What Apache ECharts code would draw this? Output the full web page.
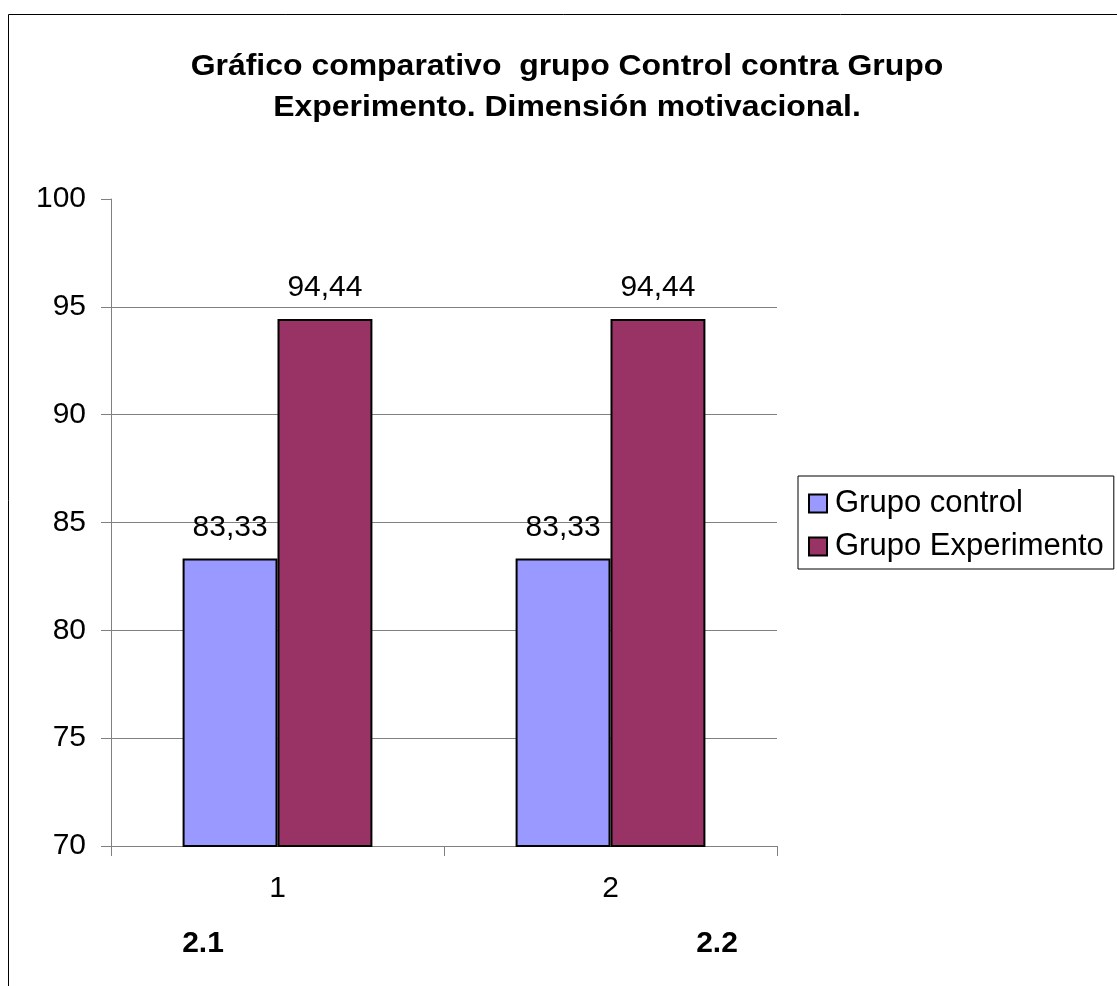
<!DOCTYPE html>
<html>
<head>
<meta charset="utf-8">
<script src="https://cdn.jsdelivr.net/npm/echarts@6/dist/echarts.min.js"></script>
<style>
  html, body { margin: 0; padding: 0; background: #fff; }
  #chart { width: 1117px; height: 986px; }
</style>
</head>
<body>
<div id="chart"></div>
<script>
// Chart data
const categories = ['1', '2'];
const sectionLabels = ['2.1', '2.2'];
const grupoControl = [83.33, 83.33];
const grupoExperimento = [94.44, 94.44];
const titleLines = ['Gráfico comparativo  grupo Control contra Grupo', 'Experimento. Dimensión motivacional.'];
const seriesNames = ['Grupo control', 'Grupo Experimento'];

const FONT = '"Liberation Sans", Arial, sans-serif';
const AXIS_GRAY = '#808080';

const chart = echarts.init(document.getElementById('chart'), null, { renderer: 'canvas' });

const valueLabel = {
  show: true,
  position: 'top',
  distance: 16,
  color: '#000',
  fontFamily: FONT,
  fontSize: 30,
  formatter: p => String(p.value).replace('.', ',')
};

chart.setOption({
  backgroundColor: '#fff',
  animation: false,
  textStyle: { fontFamily: FONT, color: '#000' },
  graphic: [
    {
      // outer frame of the chart area
      type: 'rect',
      z: -10,
      shape: { x: 8.5, y: 14.5, width: 2000, height: 2000 },
      style: { fill: 'none', stroke: '#000', lineWidth: 1 }
    },
    {
      // two-line bold title, slightly widened
      type: 'text',
      x: 567, y: 46,
      scaleX: 1.065,
      style: {
        text: titleLines.join('\n'),
        align: 'center',
        fontFamily: FONT,
        fontWeight: 'bold',
        fontSize: 30,
        lineHeight: 41,
        fill: '#000'
      }
    },
    {
      type: 'text',
      x: 203, y: 944,
      style: {
        text: sectionLabels[0], align: 'center', verticalAlign: 'middle',
        fontFamily: FONT, fontWeight: 'bold', fontSize: 30, fill: '#000'
      }
    },
    {
      type: 'text',
      x: 717, y: 944,
      style: {
        text: sectionLabels[1], align: 'center', verticalAlign: 'middle',
        fontFamily: FONT, fontWeight: 'bold', fontSize: 30, fill: '#000'
      }
    }
  ],
  legend: {
    orient: 'vertical',
    left: 798,
    top: 476,
    padding: [12, 10, 7, 10],
    itemGap: 12,
    itemWidth: 18,
    itemHeight: 18,
    borderColor: '#000',
    borderWidth: 1,
    icon: 'rect',
    textStyle: { fontFamily: FONT, fontSize: 31, color: '#000', padding: [0, 0, 0, 3] },
    data: seriesNames
  },
  grid: { left: 111, right: 340, top: 199, bottom: 140, containLabel: false },
  xAxis: {
    type: 'category',
    data: categories,
    boundaryGap: true,
    axisLine: { lineStyle: { color: AXIS_GRAY, width: 1 } },
    axisTick: { show: true, length: 10, interval: 0, alignWithLabel: false, lineStyle: { color: AXIS_GRAY } },
    axisLabel: { color: '#000', fontFamily: FONT, fontSize: 30, margin: 28 },
    splitLine: { show: false }
  },
  yAxis: {
    type: 'value',
    min: 70,
    max: 100,
    interval: 5,
    axisLine: { show: true, lineStyle: { color: AXIS_GRAY, width: 1 } },
    axisTick: { show: true, length: 10, lineStyle: { color: AXIS_GRAY } },
    axisLabel: { color: '#000', fontFamily: FONT, fontSize: 30, margin: 25 },
    splitLine: { show: true, showMaxLine: false, lineStyle: { color: AXIS_GRAY, width: 1 } }
  },
  series: [
    {
      name: seriesNames[0],
      type: 'bar',
      data: grupoControl,
      barGap: '0%',
      barCategoryGap: '43%',
      itemStyle: { color: '#9999FF', borderColor: '#000', borderWidth: 2 },
      label: valueLabel
    },
    {
      name: seriesNames[1],
      type: 'bar',
      data: grupoExperimento,
      barGap: '0%',
      barCategoryGap: '43%',
      itemStyle: { color: '#993366', borderColor: '#000', borderWidth: 2 },
      label: valueLabel
    }
  ]
});
</script>
</body>
</html>
